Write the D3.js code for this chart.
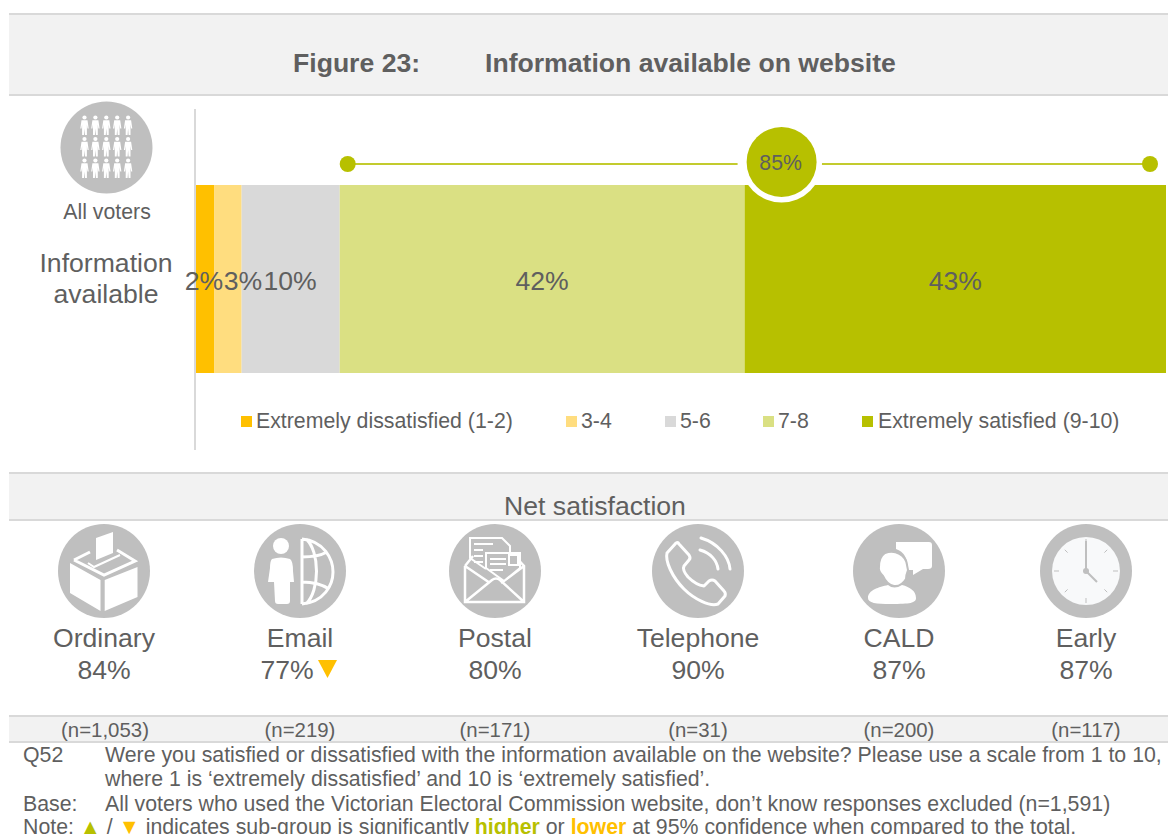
<!DOCTYPE html>
<html><head><meta charset="utf-8">
<script src="https://cdn.jsdelivr.net/npm/d3@7/dist/d3.min.js"></script>
<style>html,body{margin:0;padding:0;background:#fff;overflow:hidden}svg{display:block}text{font-family:"Liberation Sans",Arial,sans-serif;fill:#5f5f5f}</style>
</head><body><svg id="c" width="1168" height="834"></svg>
<script>
const segments = ["Extremely dissatisfied (1-2)","3-4","5-6","7-8","Extremely satisfied (9-10)"];
const segmentValues = [1.9,2.8,10.1,41.7,43.4];
const segmentColors = ["#ffc000","#ffdd7f","#d9d9d9","#dae083","#b7c000"];
const netTotal = 85;
const groups = ["Ordinary","Email","Postal","Telephone","CALD","Early"];
const groupNet = [84,77,80,90,87,87];
const groupN = ["(n=1,053)","(n=219)","(n=171)","(n=31)","(n=200)","(n=117)"];
const groupSig = [null,"lower",null,null,null,null];

const svg = d3.select("#c");
const x = d3.scaleLinear().domain([0,d3.sum(segmentValues)]).range([196,1166]);
const cx = d3.scaleOrdinal().domain(groups).range([104,300,495,698,899,1086]);
const ICON="#bfbfbf", GREEN="#b7c000", AMB="#ffc000";

function band(y,h){
  svg.append("rect").attr("x",9).attr("y",y).attr("width",1159).attr("height",h).attr("fill","#f2f2f2");
  svg.append("rect").attr("x",9).attr("y",y).attr("width",1159).attr("height",2).attr("fill","#d9d9d9");
  svg.append("rect").attr("x",9).attr("y",y+h-1).attr("width",1159).attr("height",2).attr("fill","#d9d9d9");
}
band(13,82); band(472,48); band(715,27);

function txt(s,xp,y,size,anchor="middle",extra={}){
  const t=svg.append("text").attr("x",xp).attr("y",y).attr("font-size",size).attr("text-anchor",anchor).text(s);
  Object.entries(extra).forEach(([k,v])=>t.style(k,v));
  return t;
}
const BIG=26.6, SM=21.3;
txt("Figure 23:",293,72,BIG,"start",{"font-weight":"bold"});
txt("Information available on website",485,72,BIG,"start",{"font-weight":"bold"});
txt("Net satisfaction",595,515,BIG);

svg.append("rect").attr("x",194).attr("y",109).attr("width",2).attr("height",341).attr("fill","#d9d9d9");

let cum=0;
const stack=segmentValues.map(v=>{const o={a:cum,b:cum+v,v};cum+=v;return o;});
svg.selectAll("rect.seg").data(stack).join("rect").attr("class","seg")
  .attr("x",d=>x(d.a)).attr("width",d=>x(d.b)-x(d.a)).attr("y",185).attr("height",188)
  .attr("fill",(d,i)=>segmentColors[i]);
const labelX=[204,243,290];
svg.selectAll("text.seg").data(stack).join("text").attr("class","seg")
  .attr("x",(d,i)=>i<3?labelX[i]:(x(d.a)+x(d.b))/2).attr("y",290).attr("text-anchor","middle")
  .attr("font-size",BIG).text(d=>d3.format(".0f")(d.v)+"%");

const netStart=x(stack[3].a), netEnd=x(cum)-16;
const bx=x(stack[4].a)+37, by=162;
svg.append("line").attr("x1",netStart+8).attr("x2",bx-44).attr("y1",164).attr("y2",164).attr("stroke","#c3cb2e").attr("stroke-width",2);
svg.append("line").attr("x1",bx+40).attr("x2",netEnd).attr("y1",164).attr("y2",164).attr("stroke","#c3cb2e").attr("stroke-width",2);
svg.append("circle").attr("cx",netStart+8).attr("cy",164).attr("r",8).attr("fill",GREEN);
svg.append("circle").attr("cx",netEnd).attr("cy",164).attr("r",8).attr("fill",GREEN);
svg.append("circle").attr("cx",bx).attr("cy",by).attr("r",40.5).attr("fill","#fff");
svg.append("circle").attr("cx",bx).attr("cy",by).attr("r",35).attr("fill",GREEN);
txt(netTotal+"%",bx-1,170,SM);

const legX=[241,566,665,763,862];
segments.forEach((s,i)=>{
  svg.append("rect").attr("x",legX[i]).attr("y",416).attr("width",11).attr("height",11).attr("fill",segmentColors[i]);
  txt(s,legX[i]+15+(i===4?1:0),428,SM,"start");
});

function person(g,px,py){
  const p=g.append("g").attr("transform",`translate(${px},${py})`).attr("fill","#fff");
  p.append("circle").attr("cx",0).attr("cy",-8).attr("r",2.1);
  p.append("path").attr("d","M-3,-5.2 H3 L4.2,3 H3 L2.4,-1 L2.4,9.5 H0.5 L0,3 L-0.5,9.5 H-2.4 L-2.4,-1 L-3,3 H-4.2 Z");
}
const gv=svg.append("g");
gv.append("circle").attr("cx",106.5).attr("cy",147.5).attr("r",46).attr("fill",ICON);
[0,1,2].forEach(r=>[0,1,2,3,4].forEach(c=>person(gv,84.5+c*10.9,125.5+r*21.5)));
txt("All voters",107,219,SM);
txt("Information",106,272,BIG);
txt("available",106,303,BIG);

const icons={
 Ordinary(g){
  g.append("path").attr("fill","#fff").attr("d","M-34,-8 L-3.5,9 V40 L-34,22 Z M0.7,9 L33.5,-4 V26 L0.7,40 Z");
  g.append("path").attr("fill","none").attr("stroke","#fff").attr("stroke-width",3).attr("d","M-30,-11 L-14,-19 M13,-21 L31,-10 L0,4 L-30,-11");
  g.append("path").attr("fill","#fff").attr("d","M-8,-33 L9,-39 V-18 L-8,-11 Z");
  g.append("path").attr("fill","none").attr("stroke","#fff").attr("stroke-width",2).attr("d","M-16,-8 L-10,-4 L16,-16");
 },
 Email(g){
  g.append("circle").attr("cx",-19).attr("cy",-25).attr("r",8).attr("fill","#fff");
  g.append("path").attr("fill","#fff").attr("d","M-28,-12 Q-19,-15 -10,-12 Q-7,-10 -7,0 L-6,11 H-10 L-10,30 Q-10,33 -13,33 H-22 Q-25,33 -25,30 L-26,11 H-32 L-30,-3 Q-30,-10 -28,-12 Z");
  g.append("path").attr("fill","none").attr("stroke","#fff").attr("stroke-width",3)
   .attr("d","M2,-32 V33 M2,-32 C24,-30 33,-12 33,1 C33,14 24,31 2,33 M6,-32 C20,-20 20,20 6,33 M2,-14 C10,-14 20,-15 27,-19 M2,11 C10,11 20,12 29,18");
 },
 Postal(g){
  g.append("path").attr("fill","none").attr("stroke","#fff").attr("stroke-width",2.5).attr("d","M-30,-5 V31 H29 V-5 L18,-17 M-30,-5 L-22,-15 M-30,-5 L-5,12 M29,-5 L6,12 M-30,31 L-3,9 Q1,6 5,9 L29,31");
  g.append("path").attr("fill","none").attr("stroke","#fff").attr("stroke-width",2).attr("d","M-9,-2 L-25,-13 V-33 H7 L15,-25 V-18");
  g.append("path").attr("fill",ICON).attr("stroke","#fff").attr("stroke-width",2).attr("d","M-9,-18 H25 V-3 L9,10 L-9,-3 Z");
  g.append("path").attr("stroke","#fff").attr("stroke-width",2).attr("fill","none").attr("d","M-21,-27 H-2 M-21,-21 H-12 M-21,-15 H-12 M-21,-9 H-12 M-5,-12 H11 M-5,-7 H11 M-5,-1 H8 M14,-16 H23 V-6 H14 Z");
 },
 Telephone(g){
  g.append("path").attr("fill","none").attr("stroke","#fff").attr("stroke-width",3).attr("stroke-linejoin","round")
   .attr("d","M-22,-28 L-31,-18 C-33,-10 -26,6 -14,18 C-4,28 12,36 20,33 L27,25 Q28,22 26,20 L17,10 Q14,8 11,10 L6,15 Q-2,14 -10,6 Q-16,-1 -14,-5 L-9,-11 Q-7,-13 -9,-16 L-19,-27 Q-20,-29 -22,-28 Z");
  g.append("path").attr("fill","none").attr("stroke","#fff").attr("stroke-width",3).attr("stroke-linecap","round")
   .attr("d","M2,-21 C13,-18 19,-10 20,-2 M3,-33 C20,-28 31,-14 32,-2");
 },
 CALD(g){
  g.append("path").attr("fill","#fff").attr("d","M-3,-29 H30 Q33,-29 33,-26 V-5 Q33,-2 29,-2 H24 L14,4 V-1 H9 Q9,-18 -3,-22 Z");
  g.append("path").attr("fill","#fff").attr("stroke",ICON).attr("stroke-width",2).attr("d","M-14,-18 C-4,-22 7,-16 8,-6 L9,-1 Q7,4 7,8 Q2,16 -5,15 Q-12,14 -16,5 Q-21,0 -20,-4 Q-20,-14 -14,-18 Z");
  g.append("path").attr("fill","#fff").attr("d","M-11,14 Q-5,19 3,14 C11,16 17,20 17,27 C17,32 11,33 -8,33 C-23,33 -31,32 -31,27 C-31,19 -20,16 -11,14 Z");
 },
 Early(g){
  g.append("circle").attr("r",34).attr("fill","#f8f9fa");
  d3.range(8).forEach(i=>{
    const a=i*Math.PI/4; const r0=i%2===0?27:26,r1=i%2===0?32:30;
    g.append("line").attr("x1",r0*Math.sin(a)).attr("x2",r1*Math.sin(a)).attr("y1",-r0*Math.cos(a)).attr("y2",-r1*Math.cos(a)).attr("stroke",ICON).attr("stroke-width",1);
  });
  g.append("path").attr("fill","none").attr("stroke",ICON).attr("stroke-width",2).attr("d","M0,-30 V0 L11,11");
  g.append("circle").attr("r",3).attr("fill",ICON);
 }
};
groups.forEach((name,i)=>{
  const c=cx(name);
  const g=svg.append("g").attr("transform",`translate(${c},571)`);
  g.append("ellipse").attr("rx",46).attr("ry",47).attr("fill",ICON);
  icons[name](g);
  txt(name,c,647,BIG);
  const sig=groupSig[i]==="lower";
  txt(groupNet[i]+"%",sig?c-13:c,679,BIG);
  if(sig) svg.append("path").attr("d",`M${c+18},660 h19 l-9.5,18 Z`).attr("fill",AMB);
  txt(groupN[i],c+(i===0?1:0),737,20.4);
});

const FS=SM;
txt("Q52",23,762,FS,"start");
txt("Were you satisfied or dissatisfied with the information available on the website? Please use a scale from 1 to 10,",105,762,FS,"start");
txt("where 1 is ‘extremely dissatisfied’ and 10 is ‘extremely satisfied’.",105,786,FS,"start");
txt("Base:",23,811,FS,"start");
txt("All voters who used the Victorian Electoral Commission website, don’t know responses excluded (n=1,591)",105,811,FS,"start");
const note=svg.append("text").attr("x",23).attr("y",834).attr("font-size",FS);
note.append("tspan").text("Note: ");
note.append("tspan").text("▲").style("fill",GREEN);
note.append("tspan").text(" / ");
note.append("tspan").text("▼").style("fill",AMB);
note.append("tspan").text(" indicates sub-group is significantly ");
note.append("tspan").text("higher").style("fill",GREEN).style("font-weight","bold");
note.append("tspan").text(" or ");
note.append("tspan").text("lower").style("fill",AMB).style("font-weight","bold");
note.append("tspan").text(" at 95% confidence when compared to the total.");
</script></body></html>
